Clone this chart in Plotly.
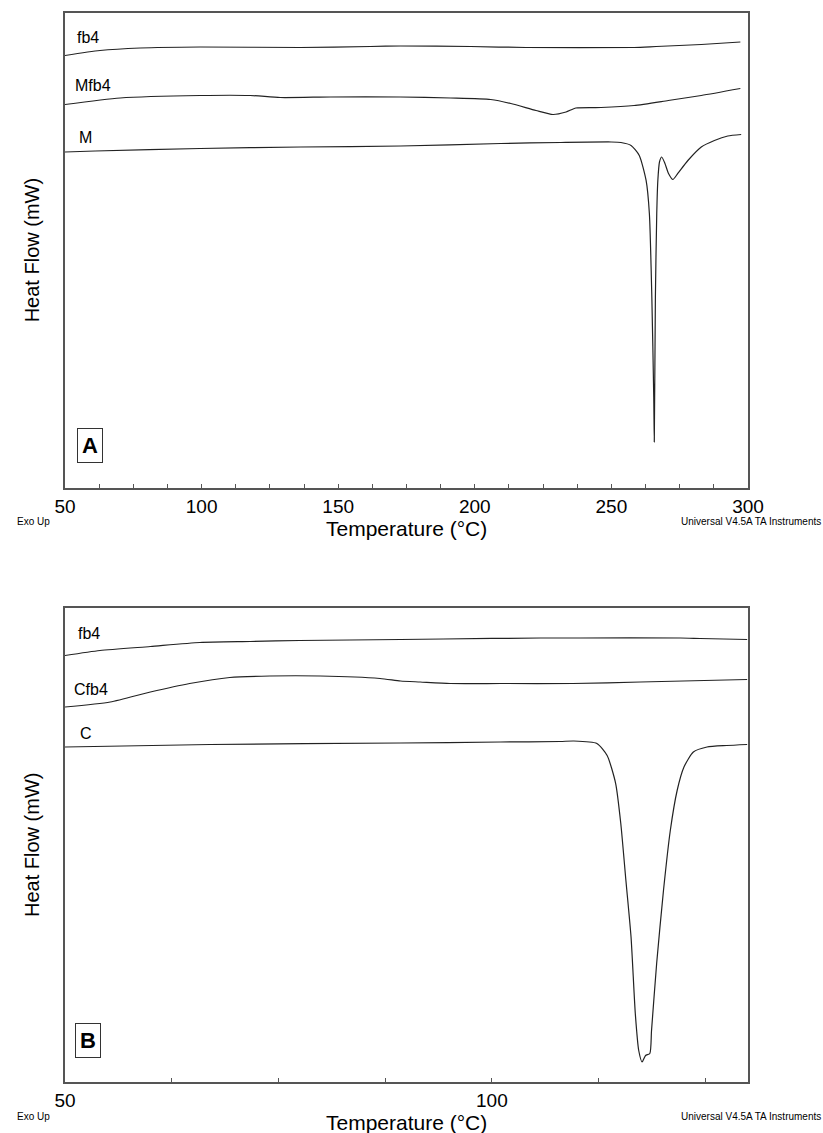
import plotly.graph_objects as go

# ---------------- Panel A data (Temperature °C, Heat Flow arbitrary mW offsets) -------------
fb4_A_T = [50, 62.8, 77.5, 99.5, 136.2, 161.8, 172.8, 198.5, 218.7, 258.3, 266.4, 282.9, 297.2]
fb4_A_HF = [-0.85, -0.75, -0.70, -0.68, -0.69, -0.67, -0.66, -0.67, -0.69, -0.69, -0.67, -0.63, -0.58]

Mfb4_A_T = [50, 70.2, 99.5, 117.8, 128.8, 147.2, 172.8, 191.2, 205.8, 213.2, 222.4, 228.6,
            233.4, 237, 246.2, 258.3, 270.8, 282.9, 297.2]
Mfb4_A_HF = [-1.83, -1.70, -1.65, -1.65, -1.69, -1.68, -1.68, -1.70, -1.73, -1.81, -1.95, -2.03,
             -1.98, -1.90, -1.89, -1.85, -1.75, -1.65, -1.51]

M_A_T = [50, 61, 99.5, 136.2, 172.8, 209.5, 231.5, 249.9, 253.5, 257.2, 260.2, 262.7, 263.9,
         264.8, 265.5, 265.7, 266.1, 266.6, 267.0, 267.6, 268.4, 269.6, 270.9, 272.5, 274.3,
         278.0, 282.9, 287.7, 292.6, 297.5]
M_A_HF = [-2.78, -2.76, -2.71, -2.68, -2.66, -2.61, -2.59, -2.58, -2.59, -2.65, -2.85, -3.35,
          -4.01, -5.68, -7.68, -8.58, -5.68, -4.01, -3.35, -2.98, -2.88, -3.01, -3.21, -3.33,
          -3.21, -2.95, -2.68, -2.55, -2.46, -2.43]

# ---------------- Panel B data ----------------
fb4_B_T = [50, 54.1, 60, 65.8, 71.7, 77.5, 89.3, 94.3, 105.7, 110.4, 122.1, 124.4, 129.9]
fb4_B_HF = [-0.95, -0.85, -0.77, -0.69, -0.67, -0.65, -0.63, -0.62, -0.60, -0.60, -0.60, -0.61, -0.63]

Cfb4_B_T = [50, 55.3, 60, 64.6, 69.3, 74, 79.9, 86.9, 89.3, 91.6, 95.1, 101, 109.5, 117.4, 129.9]
Cfb4_B_HF = [-1.98, -1.88, -1.68, -1.51, -1.39, -1.36, -1.36, -1.41, -1.46, -1.48, -1.51, -1.51,
             -1.51, -1.48, -1.43]

C_B_T = [50, 67, 89.3, 101, 108, 109.6, 112.3, 113.5, 114.5, 115.1, 115.7, 116.3, 116.8, 117.2,
         117.6, 118.0, 118.5, 118.7, 119.3, 120.1, 120.9, 121.7, 122.5, 123.6, 125.2, 127.5, 129.9]
C_B_HF = [-2.78, -2.73, -2.70, -2.68, -2.67, -2.66, -2.71, -2.95, -3.51, -4.31, -5.45, -6.58,
          -8.11, -8.85, -9.08, -8.95, -8.91, -8.45, -7.11, -5.65, -4.45, -3.65, -3.18, -2.88,
          -2.78, -2.75, -2.73]

# axis settings
A_xrange = [50, 300]
B_xrange = [50, 130]
A_major_ticks = [50, 100, 150, 200, 250, 300]
B_major_ticks = [50, 100]
minor_step = 12.5

FONT = "Arial, Liberation Sans, sans-serif"
LINE_COLOR = "#222222"
FRAME = "#555555"

fig = go.Figure()

def add(x, y, xa, ya):
    fig.add_trace(go.Scatter(
        x=x, y=y, xaxis=xa, yaxis=ya, mode="lines",
        line=dict(color=LINE_COLOR, width=1.2, shape="spline", smoothing=0.6),
        showlegend=False, hoverinfo="skip"))

add(fb4_A_T, fb4_A_HF, "x", "y")
add(Mfb4_A_T, Mfb4_A_HF, "x", "y")
add(M_A_T, M_A_HF, "x", "y")
add(fb4_B_T, fb4_B_HF, "x2", "y2")
add(Cfb4_B_T, Cfb4_B_HF, "x2", "y2")
add(C_B_T, C_B_HF, "x2", "y2")

def xax(rng, ticks, domain_anchor):
    return dict(range=rng, tickvals=ticks, ticktext=[str(t) for t in ticks],
                ticks="inside", ticklen=4, tickcolor=FRAME, tickwidth=1,
                minor=dict(dtick=minor_step, tick0=50, ticks="inside", ticklen=4,
                           tickcolor=FRAME, tickwidth=1),
                showline=True, mirror=True, linecolor=FRAME, linewidth=1.5,
                showgrid=False, zeroline=False, anchor=domain_anchor,
                tickfont=dict(family=FONT, size=19, color="black"))

def yax(rng, domain, anchor):
    return dict(range=rng, domain=domain, anchor=anchor, showticklabels=False,
                ticks="", showline=True, mirror=True, linecolor=FRAME, linewidth=1.5,
                showgrid=False, zeroline=False)

fig.update_layout(
    width=823, height=1133,
    margin=dict(l=65, r=75, t=13, b=51),
    paper_bgcolor="white", plot_bgcolor="white",
    xaxis=xax(A_xrange, A_major_ticks, "y"),
    yaxis=yax([-9.5, 0], [0.5557, 1.0], "x"),
    xaxis2=xax(B_xrange, B_major_ticks, "y2"),
    yaxis2=yax([-9.48, 0], [0.0, 0.4434], "x2"),
    font=dict(family=FONT, color="black"),
)

ann = []
def note(text, x, y, size, xanchor="left", angle=0, bold=False, box=False):
    d = dict(text=("<b>%s</b>" % text) if bold else text, x=x, y=y, xref="paper", yref="paper",
             xanchor=xanchor, yanchor="middle", showarrow=False, textangle=angle,
             font=dict(family=FONT, size=size, color="black"))
    if box:
        d.update(bordercolor="#333333", borderwidth=1, borderpad=4)
    ann.append(d)

# series labels
note("fb4", 0.0146, 0.977, 16)
note("Mfb4", 0.0117, 0.9324, 16)
note("M", 0.0176, 0.884, 16)
note("fb4", 0.0160, 0.420, 16)
note("Cfb4", 0.0107, 0.3674, 16)
note("C", 0.0185, 0.3259, 16)
# panel letters
note("A", 0.037, 0.5951, 22, xanchor="center", bold=True, box=True)
note("B", 0.0344, 0.039, 22, xanchor="center", bold=True, box=True)
# axis titles
for yc in (0.778, 0.2217):
    note("Heat Flow (mW)", -0.0483, yc, 20, xanchor="center", angle=-90)
note("Temperature (°C)", 0.5, 0.5175, 21, xanchor="center")
note("Temperature (°C)", 0.5, -0.0381, 21, xanchor="center")
# footer texts
note("Exo Up", -0.0732, 0.5245, 10)
note("Universal V4.5A TA Instruments", 1.1098, 0.5245, 10, xanchor="right")
note("Exo Up", -0.0732, -0.0321, 10)
note("Universal V4.5A TA Instruments", 1.1098, -0.0321, 10, xanchor="right")

fig.update_layout(annotations=ann)
fig.write_html("out.html")
